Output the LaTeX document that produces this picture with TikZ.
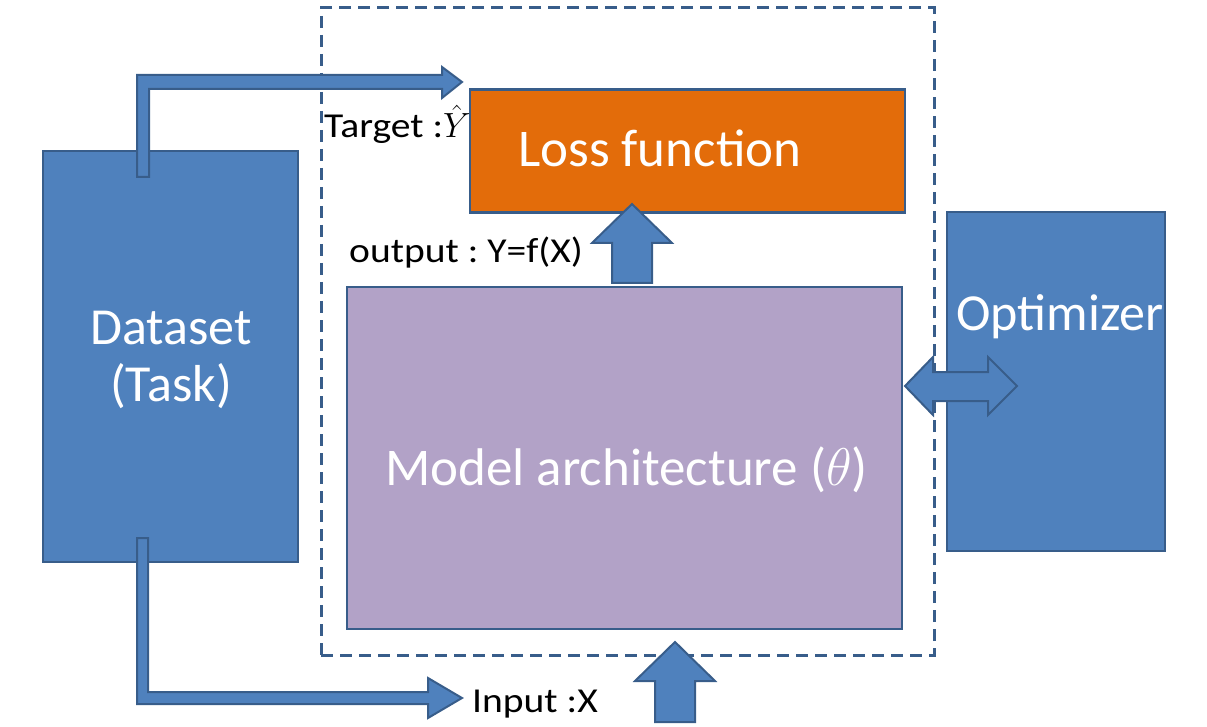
\RequirePackage{fix-cm}
\documentclass[tikz,border=0pt]{standalone}
\usepackage{fontspec}
\setmainfont{Carlito}
\newfontfamily\smallfont[FakeStretch=1.13]{Carlito}
\frenchspacing
\definecolor{boxblue}{HTML}{4F81BD}
\definecolor{edge}{HTML}{385D8A}
\definecolor{lossorange}{HTML}{E36C0A}
\definecolor{modelpurple}{HTML}{B2A2C7}
\tikzset{
  block/.style={draw=edge, line width=2.5pt, inner sep=0pt},
  blockarrow/.style={fill=boxblue, draw=edge, line width=2pt, line join=miter},
  bigtext/.style={text=white, inner sep=0pt, font=\fontsize{52}{57}\selectfont},
  smalltext/.style={text=black, inner sep=0pt, font=\smallfont\fontsize{35}{42}\selectfont\frenchspacing, anchor=base west},
  dashbox/.style={draw=edge, line width=3pt, dash pattern=on 12pt off 7pt}
}
\begin{document}
\begin{tikzpicture}[x=1pt, y=-1pt]
\useasboundingbox (0,0) rectangle (1207,727);
% boxes
\node[block, fill=boxblue, minimum width=255pt, minimum height=411pt] (dataset) at (170.5,356.5) {};
\node[dashbox, minimum width=613pt, minimum height=647pt] (frame) at (627.5,331.5) {};
\node[block, fill=modelpurple, minimum width=555pt, minimum height=342pt] (model) at (624.5,458) {};
\node[block, fill=lossorange, minimum width=435pt, minimum height=123pt] (loss) at (687.5,151) {};
\node[block, fill=boxblue, minimum width=218pt, minimum height=339pt] (optimizer) at (1056,381.5) {};
% block arrows
\draw[blockarrow] (137,177) -- (137,75) -- (442,75) -- (442,67) -- (462,82) -- (442,98) -- (442,89) -- (149,89) -- (149,177) -- cycle;
\draw[blockarrow] (137,538) -- (137,704) -- (428,704) -- (428,718) -- (462,698) -- (428,678) -- (428,692) -- (148,692) -- (148,538) -- cycle;
\draw[blockarrow] (612,283) -- (612,243) -- (592,243) -- (632,204) -- (672,243) -- (652,243) -- (652,283) -- cycle;
\draw[blockarrow] (655,722) -- (655,681) -- (635,681) -- (675,642) -- (715,681) -- (695,681) -- (695,722) -- cycle;
\draw[blockarrow] (905,386) -- (933,357) -- (933,372) -- (988,372) -- (988,357) -- (1017,386) -- (988,415) -- (988,401) -- (933,401) -- (933,415) -- cycle;
% texts
\node[bigtext, align=center] (dstext) at (171,360) {Dataset\\(Task)};
\node[bigtext, anchor=base west] (losstext) at (518,167) {\fontsize{53}{57}\selectfont Loss function};
\node[bigtext, anchor=base west] (modeltext) at (385,485) {\fontsize{53}{57}\selectfont Model architecture ($\theta$)};
\node[bigtext, anchor=base west] (opttext) at (956,330) {Optimizer};
\node[smalltext] (target) at (324,138) {Target :$\hat{Y}$};
\node[smalltext] (output) at (349,263) {output : Y=f(X)};
\node[smalltext] (input) at (472,712) {Input :X};
\end{tikzpicture}
\end{document}
